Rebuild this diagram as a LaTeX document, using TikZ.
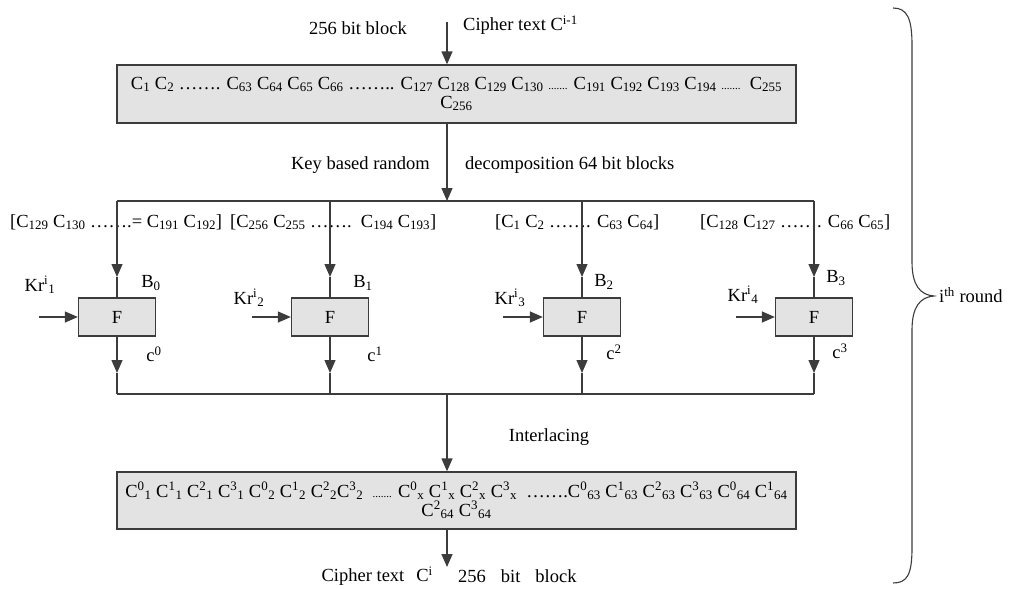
\documentclass[tikz,border=0pt]{standalone}
\usepackage{fontspec}
\setmainfont{Liberation Serif}
\usepackage{tikz}
\usetikzlibrary{arrows.meta, positioning, calc}
\definecolor{boxgray}{RGB}{227,227,227}
\definecolor{linegray}{RGB}{60,60,60}
\newcommand{\csub}[1]{C\textsubscript{#1}}
\newcommand{\csup}[2]{C\textsuperscript{#1}\textsubscript{#2}}
\newcommand{\smalldots}{{\fontsize{11}{11}\selectfont .......}}
\tikzset{
  wordbox/.style={rectangle, draw=linegray, fill=boxgray,
    minimum width=679pt, minimum height=58pt, align=center,
    inner sep=2pt, line width=1.3pt},
  fbox/.style={rectangle, draw=linegray, fill=boxgray,
    minimum width=77pt, minimum height=38pt, line width=1.3pt},
  arrow/.style={-{Triangle[length=13pt,width=11pt]}, line width=1.3pt, color=linegray},
  line/.style={line width=1.3pt, color=linegray},
  lbl/.style={inner sep=0pt}
}
\begin{document}
\begin{tikzpicture}[x=1pt, y=-1pt, font=\fontsize{18.5}{19}\selectfont]
  \useasboundingbox (0,0) rectangle (1018,589);

  % input block
  \node[wordbox] (inbox) at (456.5,94) {\csub{1} \csub{2} ……. \csub{63} \csub{64} \csub{65} \csub{66} …….. \csub{127} \csub{128} \csub{129} \csub{130} \smalldots{} \csub{191} \csub{192} \csub{193} \csub{194} \smalldots{}\ \ \csub{255}\\ \csub{256}};
  \coordinate (src) at (447,22);
  \node[lbl] (blk) at (358,28) {256 bit block};
  \node[lbl, anchor=west] (cin) at (463,25) {Cipher text C\textsuperscript{i-1}};
  \draw[arrow] (src) -- (src |- inbox.north);

  % decomposition
  \coordinate (split) at (447,201);
  \node[lbl, anchor=east] (keyrand) at (430,165) {Key based random};
  \node[lbl, anchor=west] (decomp) at (465,165) {decomposition 64 bit blocks};
  \draw[arrow] (split |- inbox.south) -- (split);

  \coordinate (b0) at (117,201);
  \coordinate (b1) at (330,201);
  \coordinate (b2) at (582,201);
  \coordinate (b3) at (814,201);
  \draw[line] (b0) -- (b3);

  \node[lbl, anchor=west] (sel0) at (10,222) {[\csub{129} \csub{130} …….= \csub{191} \csub{192}]};
  \node[lbl, anchor=west] (sel1) at (230,222) {[\csub{256} \csub{255} …….\ \ \csub{194} \csub{193}]};
  \node[lbl, anchor=west] (sel2) at (495,222) {[\csub{1} \csub{2} ……. \csub{63} \csub{64}]};
  \node[lbl, anchor=west] (sel3) at (700,222) {[\csub{128} \csub{127} ……. \csub{66} \csub{65}]};

  % round functions
  \node[fbox] (f0) at (117,317) {F\hspace{20pt}};
  \node[fbox] (f1) at (330,317) {F\hspace{20pt}};
  \node[fbox] (f2) at (582,317) {F\hspace{20pt}};
  \node[fbox] (f3) at (814,317) {F\hspace{20pt}};

  \coordinate (a0) at (117,277);
  \coordinate (a1) at (330,277);
  \coordinate (a2) at (582,277);
  \coordinate (a3) at (814,277);
  \draw[arrow] (b0) -- (a0);
  \draw[arrow] (b1) -- (a1);
  \draw[arrow] (b2) -- (a2);
  \draw[arrow] (b3) -- (a3);
  \draw[line] (a0) -- (f0);
  \draw[line] (a1) -- (f1);
  \draw[line] (a2) -- (f2);
  \draw[line] (a3) -- (f3);

  \node[lbl] (bl0) at (151,283) {B\textsubscript{0}};
  \node[lbl] (bl1) at (363,283) {B\textsubscript{1}};
  \node[lbl] (bl2) at (604,282) {B\textsubscript{2}};
  \node[lbl] (bl3) at (836,278) {B\textsubscript{3}};

  % round keys
  \coordinate (k0) at (39,317);
  \coordinate (k1) at (252,317);
  \coordinate (k2) at (503,317);
  \coordinate (k3) at (736,317);
  \draw[arrow] (k0) -- (f0);
  \draw[arrow] (k1) -- (f1);
  \draw[arrow] (k2) -- (f2);
  \draw[arrow] (k3) -- (f3);
  \node[lbl] (kr0) at (40,285) {Kr\textsuperscript{i}\textsubscript{1}};
  \node[lbl] (kr1) at (249,298) {Kr\textsuperscript{i}\textsubscript{2}};
  \node[lbl] (kr2) at (510,298) {Kr\textsuperscript{i}\textsubscript{3}};
  \node[lbl] (kr3) at (743,295) {Kr\textsuperscript{i}\textsubscript{4}};

  % outputs
  \coordinate (d0) at (117,373);
  \coordinate (d1) at (330,373);
  \coordinate (d2) at (582,373);
  \coordinate (d3) at (814,373);
  \coordinate (e0) at (117,394);
  \coordinate (e1) at (330,394);
  \coordinate (e2) at (582,394);
  \coordinate (e3) at (814,394);
  \draw[arrow] (f0) -- (d0);
  \draw[arrow] (f1) -- (d1);
  \draw[arrow] (f2) -- (d2);
  \draw[arrow] (f3) -- (d3);
  \draw[line] (d0) -- (e0);
  \draw[line] (d1) -- (e1);
  \draw[line] (d2) -- (e2);
  \draw[line] (d3) -- (e3);
  \draw[line] (e0) -- (e3);

  \node[lbl] (c0) at (154,354) {c\textsuperscript{0}};
  \node[lbl] (c1) at (375,354) {c\textsuperscript{1}};
  \node[lbl] (c2) at (614,352) {c\textsuperscript{2}};
  \node[lbl] (c3) at (840,351) {c\textsuperscript{3}};

  % interlacing
  \coordinate (join) at (447,394);
  \node[lbl] (inter) at (549,437) {Interlacing};
  \node[wordbox, minimum height=57pt] (outbox) at (456.5,500.5) {\csup{0}{1} \csup{1}{1} \csup{2}{1} \csup{3}{1} \csup{0}{2} \csup{1}{2} \csup{2}{2}\csup{3}{2}\ \ \smalldots{} \csup{0}{x} \csup{1}{x} \csup{2}{x} \csup{3}{x}\ \ …….\csup{0}{63} \csup{1}{63} \csup{2}{63} \csup{3}{63} \csup{0}{64} \csup{1}{64}\\ \csup{2}{64} \csup{3}{64}};
  \draw[arrow] (join) -- (join |- outbox.north);

  \coordinate (dst) at (447,567);
  \draw[arrow] (dst |- outbox.south) -- (dst);
  \node[lbl, anchor=east] (cout) at (433,576) {Cipher text\hspace{12pt}C\textsuperscript{i}};
  \node[lbl, anchor=west] (bout) at (458,576) {256\hspace{15pt}bit\hspace{15pt}block};

  % round brace
  \coordinate (tip) at (934,296);
  \draw[line, line width=1.1pt] (893,8) .. controls (907,8) and (912,18) .. (912,45) -- (912,262) .. controls (912,285) and (920,295) .. (tip) .. controls (920,297) and (912,307) .. (912,330) -- (912,548) .. controls (912,575) and (907,583) .. (893,583);
  \node[lbl, anchor=west] (round) at (939,295) {i\textsuperscript{th} round};
\end{tikzpicture}
\end{document}
